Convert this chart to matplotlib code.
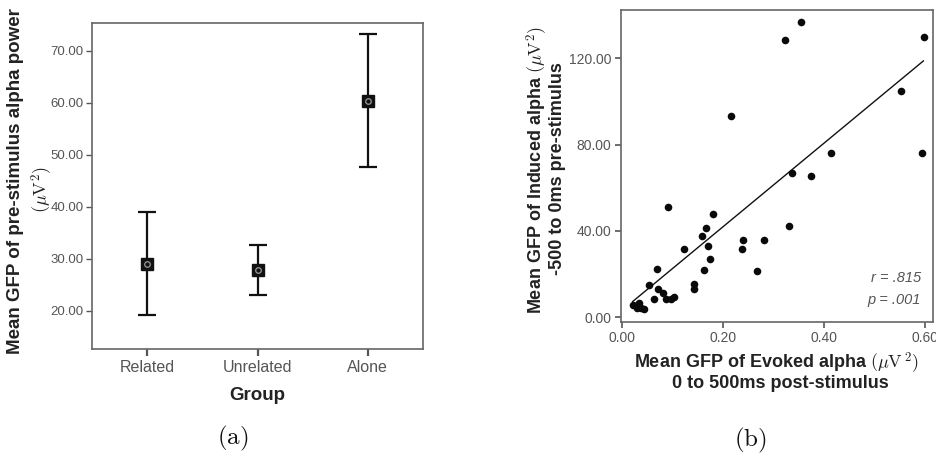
import matplotlib
matplotlib.use("Agg")
import matplotlib.pyplot as plt
from matplotlib.ticker import FormatStrFormatter

plt.rcParams['font.family'] = ['Liberation Sans', 'DejaVu Sans']
plt.rcParams['mathtext.fontset'] = 'cm'

# ---- Panel (a) data ----
groups = ['Related', 'Unrelated', 'Alone']
means = [29.0, 27.8, 60.3]
ci_low = [19.2, 23.0, 47.6]
ci_high = [39.0, 32.6, 73.2]
yticks_a = [20, 30, 40, 50, 60, 70]

# ---- Panel (b) data ----
evoked = [0.354, 0.322, 0.598, 0.551, 0.217, 0.413, 0.594, 0.337, 0.374, 0.330,
          0.091, 0.180, 0.167, 0.158, 0.170, 0.175, 0.162, 0.123, 0.239, 0.237,
          0.281, 0.268, 0.143, 0.143, 0.070, 0.054, 0.073, 0.064, 0.081, 0.088,
          0.103, 0.098, 0.022, 0.035, 0.038, 0.030, 0.045]
induced = [137.0, 128.5, 130.0, 105.0, 93.3, 76.3, 76.0, 66.7, 65.6, 42.3,
           51.0, 47.7, 41.2, 37.7, 33.2, 26.9, 21.9, 31.5, 35.8, 31.8,
           35.8, 21.3, 15.3, 13.0, 22.2, 14.8, 13.1, 8.6, 11.1, 8.3,
           9.6, 8.5, 5.7, 6.5, 4.2, 4.2, 3.7]
fit_x = [0.022, 0.596]
fit_y = [7.3, 118.8]
xticks_b = [0.0, 0.2, 0.4, 0.6]
yticks_b = [0, 40, 80, 120]

W, H = 936, 459
fig = plt.figure(figsize=(W / 100, H / 100), dpi=100)

def fx(px):
    return px / W

def fy(py):
    return 1 - py / H

spine_col = '#666666'
tick_col = '#555555'
lab_col = '#222222'

# ---------------- Panel (a) ----------------
axa = fig.add_axes([fx(92), fy(349), fx(423) - fx(92), fy(23) - fy(349)])
xs = list(range(len(groups)))
yerr = [[m - lo for m, lo in zip(means, ci_low)], [hi - m for m, hi in zip(means, ci_high)]]
axa.errorbar(xs, means, yerr=yerr, fmt='none', ecolor='#111111', elinewidth=1.6,
             capsize=6.5, capthick=1.6, zorder=2)
axa.plot(xs, means, 's', color='#111111', markersize=8.5, zorder=3)
axa.plot(xs, means, 'o', markerfacecolor='none', markeredgecolor='#9a9a9a',
         markersize=4, markeredgewidth=0.9, zorder=4)
axa.set_xlim(-0.5, 2.5)
axa.set_ylim(12.69, 75.38)
axa.set_yticks(yticks_a)
axa.yaxis.set_major_formatter(FormatStrFormatter('%.2f'))
axa.set_xticks(xs)
axa.set_xticklabels(groups)
axa.tick_params(axis='y', labelsize=9.5, colors=tick_col, length=4, width=1, pad=2)
axa.tick_params(axis='x', labelsize=11.5, colors=tick_col, length=5, width=1.6, pad=3)
for lab in axa.get_yticklabels():
    lab.set_color(tick_col)
for s in axa.spines.values():
    s.set_color(spine_col)
    s.set_linewidth(1.2)

fig.text(fx(16), fy(181), 'Mean GFP of pre-stimulus alpha power', rotation=90,
         ha='center', va='center', fontsize=13.5, fontweight='bold', color=lab_col)
fig.text(fx(42), fy(190), r'$(\mu\mathrm{V}^2)$', rotation=90,
         ha='center', va='center', fontsize=13, color=lab_col)
fig.text(fx(257), fy(395), 'Group', ha='center', va='center', fontsize=13.5,
         fontweight='bold', color=lab_col)
fig.text(fx(233), fy(438), r'$\mathrm{(a)}$', ha='center', va='center', fontsize=18,
         color='#111111')

# ---------------- Panel (b) ----------------
axb = fig.add_axes([fx(621), fy(321.7), fx(933) - fx(621), fy(10) - fy(321.7)])
axb.scatter(evoked, induced, s=30, color='#0a0a0a', zorder=3, linewidths=0)
axb.plot(fit_x, fit_y, color='#111111', linewidth=1.0, zorder=2)
axb.set_xlim(-0.001, 0.615)
axb.set_ylim(-2.04, 142.4)
axb.set_xticks(xticks_b)
axb.set_yticks(yticks_b)
axb.xaxis.set_major_formatter(FormatStrFormatter('%.2f'))
axb.yaxis.set_major_formatter(FormatStrFormatter('%.2f'))
axb.tick_params(axis='both', labelsize=10, colors=tick_col, length=4, width=1.2, pad=3)
for s in axb.spines.values():
    s.set_color(spine_col)
    s.set_linewidth(1.2)

fig.text(fx(921), fy(278), 'r = .815', ha='right', va='center', fontsize=10.5,
         style='italic', color='#555555')
fig.text(fx(921), fy(300), 'p = .001', ha='right', va='center', fontsize=10.5,
         style='italic', color='#555555')

fig.text(fx(537), fy(170), r'Mean GFP of Induced alpha $(\mu\mathrm{V}^2)$', rotation=90,
         ha='center', va='center', fontsize=13, fontweight='bold', color=lab_col)
fig.text(fx(557), fy(169), '-500 to 0ms pre-stimulus', rotation=90,
         ha='center', va='center', fontsize=13, fontweight='bold', color=lab_col)
fig.text(fx(776), fy(363), r'Mean GFP of Evoked alpha $(\mu\mathrm{V}^{\,2})$',
         ha='center', va='center', fontsize=13, fontweight='bold', color=lab_col)
fig.text(fx(780), fy(383), '0 to 500ms post-stimulus', ha='center', va='center',
         fontsize=13, fontweight='bold', color=lab_col)
fig.text(fx(750), fy(440), r'$\mathrm{(b)}$', ha='center', va='center', fontsize=18,
         color='#111111')

fig.savefig('out.png', dpi=100)
